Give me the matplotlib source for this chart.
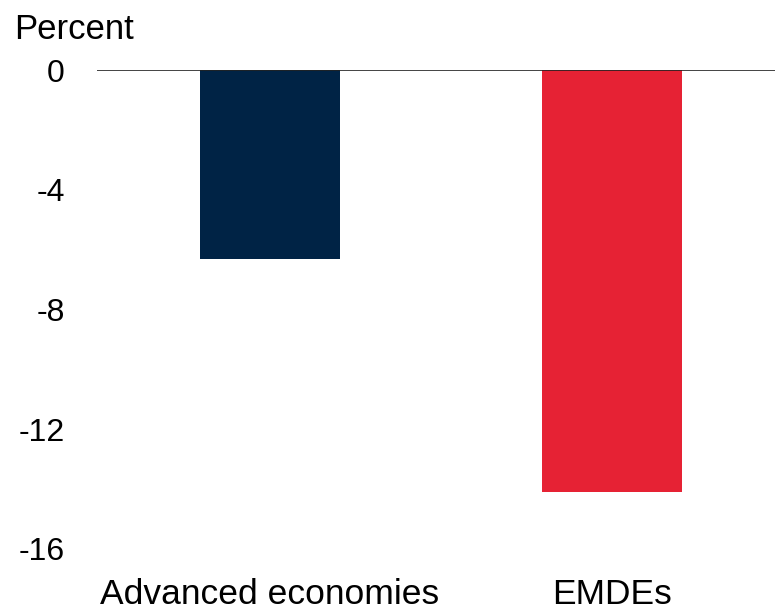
import matplotlib
matplotlib.use("Agg")
import matplotlib.pyplot as plt

# Данные
categories = ["Advanced economies", "EMDEs"]
values = [-6.3, -14.1]
colors = ["#002345", "#e62234"]
yticks = [0, -4, -8, -12, -16]

plt.rcParams['font.family'] = ['Liberation Sans', 'DejaVu Sans']

fig = plt.figure(figsize=(7.75, 6.1), dpi=100)
ax = fig.add_axes([0.125, 0.100, 0.875, 0.785])

x = range(len(categories))
ax.bar(x, values, width=0.41, color=colors)

ax.set_xlim(-0.506, 1.477)
ax.set_ylim(-16, 0)
ax.set_yticks(yticks)
ax.set_yticklabels([str(v) for v in yticks])
ax.set_xticks(list(x))
ax.set_xticklabels(categories)

ax.tick_params(axis='y', length=0, pad=23, labelsize=23)
ax.tick_params(axis='x', length=0, pad=21, labelsize=25.5)

for s in ['left', 'right', 'bottom', 'top']:
    ax.spines[s].set_visible(False)
ax.axhline(0, color='#222222', linewidth=1.2)

fig.text(14 / 775, 1 - 39 / 610, "Percent", fontsize=25, va='baseline', ha='left')

fig.savefig("out.png", dpi=100)
